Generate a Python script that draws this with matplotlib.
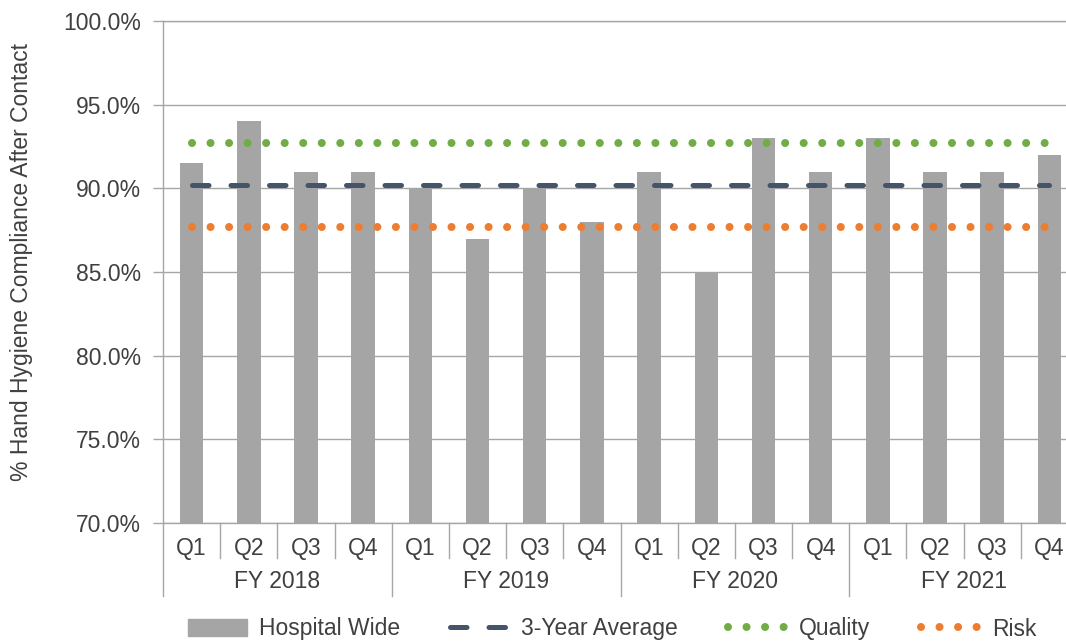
import numpy as np
import matplotlib.pyplot as plt
import matplotlib.transforms as mtransforms
from matplotlib.patches import Patch
from matplotlib.lines import Line2D

# data
quarters = ['Q1', 'Q2', 'Q3', 'Q4'] * 4
years = ['FY 2018', 'FY 2019', 'FY 2020', 'FY 2021']
hospital_wide = [91.5, 94.0, 91.0, 91.0, 90.0, 87.0, 90.0, 88.0,
                 91.0, 85.0, 93.0, 91.0, 93.0, 91.0, 91.0, 92.0]
avg_3yr = 90.2
quality = 92.7
risk = 87.7
yticks = [70, 75, 80, 85, 90, 95, 100]

plt.rcParams['font.family'] = ['Liberation Sans', 'DejaVu Sans']
txt = '#404040'
grid_c = '#A6A6A6'
fs = 16.5

dash = dict(lw=3.6, linestyle=(0, (3.3, 4.4)), dash_capstyle='round')
dots = dict(lw=5.8, linestyle=(0, (0.001, 2.3)), dash_capstyle='round')

fig = plt.figure(figsize=(10.66, 6.41), dpi=100)
ax = fig.add_axes([163 / 1066, 1 - 523 / 641, 915 / 1066, 502 / 641])

x = np.arange(len(hospital_wide))
ax.bar(x, hospital_wide, width=0.41, color='#A5A5A5', zorder=2)

ax.plot(x, [avg_3yr] * len(x), color='#44546A', zorder=3, **dash)
ax.plot(x, [quality] * len(x), color='#70AD47', zorder=3, **dots)
ax.plot(x, [risk] * len(x), color='#ED7D31', zorder=3, **dots)

ax.set_xlim(-0.5, 15.5)
ax.set_ylim(70, 100)
ax.set_yticks(yticks)
ax.set_yticklabels(['{:.1f}%'.format(v) for v in yticks], fontsize=fs, color=txt)
ax.tick_params(axis='y', length=7, color=grid_c, width=1, pad=9)
ax.set_xticks([])
ax.grid(axis='y', color=grid_c, lw=1, zorder=0)
ax.set_axisbelow(True)
ax.spines['right'].set_visible(False)
for s in ['left', 'bottom', 'top']:
    ax.spines[s].set_color(grid_c)
    ax.spines[s].set_linewidth(1)

# two level category axis
trans = mtransforms.blended_transform_factory(ax.transData, ax.transAxes)
for i, q in enumerate(quarters):
    ax.text(i, -0.05, q, transform=trans, ha='center', va='center',
            fontsize=fs, color=txt)
for j, yr in enumerate(years):
    ax.text(j * 4 + 1.5, -0.117, yr, transform=trans, ha='center', va='center',
            fontsize=fs, color=txt)
for b in np.arange(-0.5, 16, 1.0):
    low = -0.145 if (b + 0.5) % 4 == 0 else -0.07
    ax.plot([b, b], [0, low], transform=trans, color=grid_c, lw=1, clip_on=False)

fig.text(22 / 1066, 1 - 262 / 641, '% Hand Hygiene Compliance After Contact',
         rotation=90, ha='center', va='center', fontsize=fs, color=txt)

handles = [
    Patch(color='#A5A5A5'),
    Line2D([], [], color='#44546A', **dash),
    Line2D([], [], color='#70AD47', **dots),
    Line2D([], [], color='#ED7D31', **dots),
]
labels = ['Hospital Wide', '3-Year Average', 'Quality', 'Risk']
leg = fig.legend(handles, labels, loc='center', bbox_to_anchor=(612 / 1066, 1 - 629 / 641),
                 ncol=4, frameon=False, fontsize=fs, handlelength=2.6,
                 handletextpad=0.5, columnspacing=2.2)
for t in leg.get_texts():
    t.set_color(txt)

fig.savefig('out.png', dpi=100)
